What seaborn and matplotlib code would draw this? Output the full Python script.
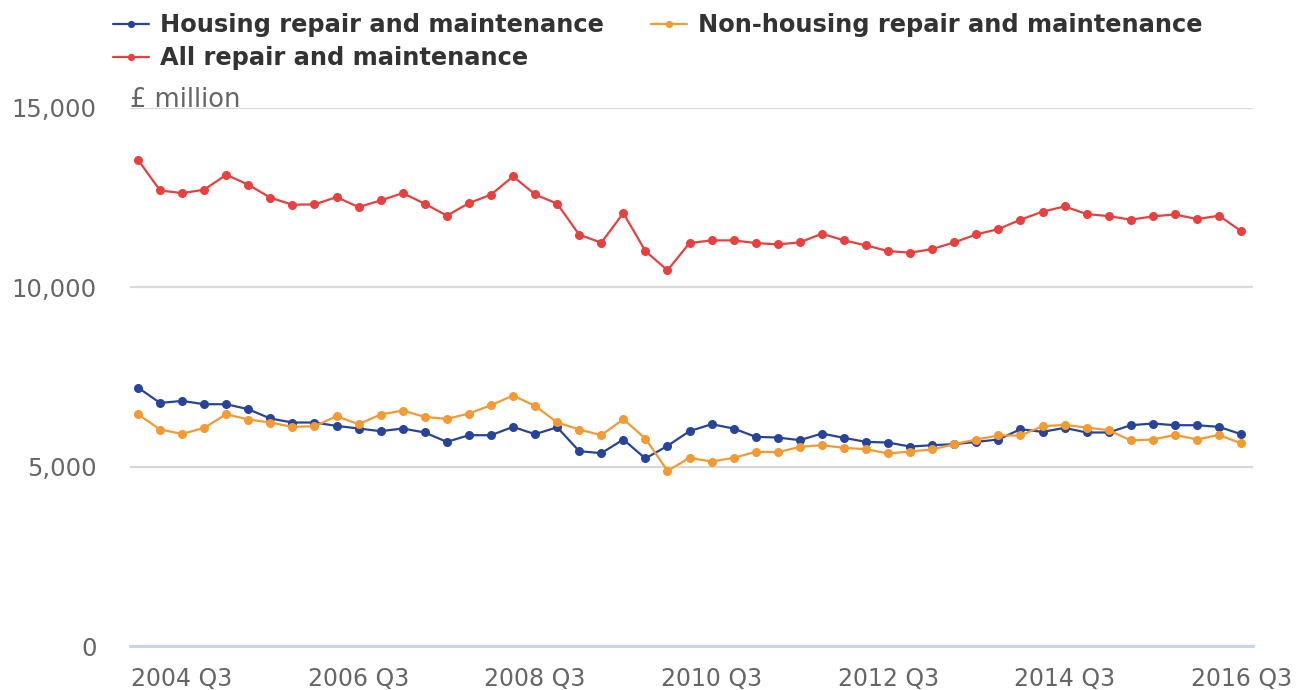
import matplotlib
matplotlib.use('Agg')
import matplotlib.pyplot as plt
import seaborn as sns
import pandas as pd

# quarterly output, 2004 Q1 .. 2016 Q3 (£ million)
quarters = [f'{y} Q{q}' for y in range(2004, 2017) for q in range(1, 5)][:51]

housing = [7206, 6777, 6833, 6741, 6741, 6602, 6343, 6231, 6231, 6137,
           6064, 5989, 6064, 5953, 5691, 5877, 5877, 6109, 5905, 6100,
           5432, 5376, 5757, 5228, 5580, 5989, 6184, 6064, 5831, 5813,
           5738, 5924, 5803, 5691, 5673, 5560, 5599, 5627, 5691, 5757,
           6045, 5970, 6081, 5953, 5953, 6156, 6203, 6156, 6156, 6109,
           5905]
non_housing = [6462, 6036, 5914, 6081, 6462, 6315, 6231, 6109, 6128, 6407,
               6184, 6454, 6565, 6387, 6331, 6482, 6713, 6983, 6694, 6235,
               6036, 5877, 6323, 5785, 4884, 5245, 5144, 5245, 5413, 5404,
               5552, 5599, 5524, 5487, 5368, 5422, 5479, 5627, 5757, 5869,
               5869, 6128, 6164, 6090, 6017, 5730, 5757, 5886, 5757, 5886,
               5646]
all_rm = [13557, 12702, 12627, 12721, 13139, 12861, 12499, 12304, 12312, 12515,
          12237, 12423, 12627, 12331, 11997, 12348, 12582, 13092, 12591, 12331,
          11468, 11245, 12070, 11011, 10474, 11234, 11309, 11309, 11234, 11198,
          11253, 11496, 11309, 11170, 11011, 10966, 11067, 11253, 11476, 11624,
          11886, 12109, 12256, 12042, 11986, 11886, 11978, 12033, 11903, 11997,
          11568]

series_names = ['Housing repair and maintenance',
                'Non-housing repair and maintenance',
                'All repair and maintenance']
series_colors = ['#27449a', '#f39a32', '#e8403f']
tick_labels = ['2004 Q3', '2006 Q3', '2008 Q3', '2010 Q3',
               '2012 Q3', '2014 Q3', '2016 Q3']

frame = pd.DataFrame({'quarter': quarters,
                      series_names[0]: housing,
                      series_names[1]: non_housing,
                      series_names[2]: all_rm})
frame['pos'] = range(len(frame))
long = frame.melt(id_vars=['quarter', 'pos'], var_name='series', value_name='value')

sns.set_style('white')
plt.rcParams['font.family'] = ['DejaVu Sans']

fig = plt.figure(figsize=(12.98, 6.90), dpi=100)
ax = fig.add_axes([130 / 1298, 1 - 646 / 690, (1253 - 130) / 1298, (646 - 108) / 690])

for name, color in zip(series_names, series_colors):
    sns.lineplot(data=long[long['series'] == name], x='pos', y='value',
                 color=color, marker='o', markersize=6.5, markeredgewidth=0,
                 linewidth=1.6, label=name, ax=ax, legend=False, zorder=3)

ax.set_xlim(-0.36, 50.54)
ax.set_ylim(0, 15000)
ax.set_yticks([0, 5000, 10000, 15000])
ax.set_yticklabels(['0', '5,000', '10,000', '15,000'])
tick_pos = [quarters.index(t) for t in tick_labels]
ax.set_xticks(tick_pos)
ax.set_xticklabels(tick_labels)
ax.set(xlabel='', ylabel='')

ax.yaxis.grid(True, color='#d9d9d9', linewidth=1.6)
ax.xaxis.grid(False)
for side in ['top', 'left', 'right']:
    ax.spines[side].set_visible(False)
ax.spines['bottom'].set_color('#c9d6e6')
ax.spines['bottom'].set_linewidth(2.2)
ax.axhline(0, color='#8a9099', linewidth=1.8, zorder=2, clip_on=False)

ax.tick_params(axis='x', colors='#c9d6e6', length=12, width=1.5, pad=3,
               labelsize=17, labelcolor='#666666')
ax.tick_params(axis='y', length=0, pad=24, labelsize=17.5, labelcolor='#666666')

ax.annotate('£ million', xy=(0, 15000), xycoords=('axes fraction', 'data'),
            xytext=(0, 1), textcoords='offset points', ha='left', va='baseline',
            fontsize=18.5, color='#666666')

handles, labels = ax.get_legend_handles_labels()
order = [0, 2, 1]
fig.legend([handles[i] for i in order], [labels[i] for i in order],
           loc='upper left', bbox_to_anchor=(113 / 1298, 1 - 13 / 690),
           ncol=2, frameon=False, borderpad=0, borderaxespad=0,
           handlelength=1.5, handletextpad=0.45, columnspacing=1.95,
           labelspacing=0.38, markerscale=0.8,
           prop={'weight': 'bold', 'size': 17.4})
for text in fig.legends[0].get_texts():
    text.set_color('#333333')

fig.savefig('out.png', dpi=100)
